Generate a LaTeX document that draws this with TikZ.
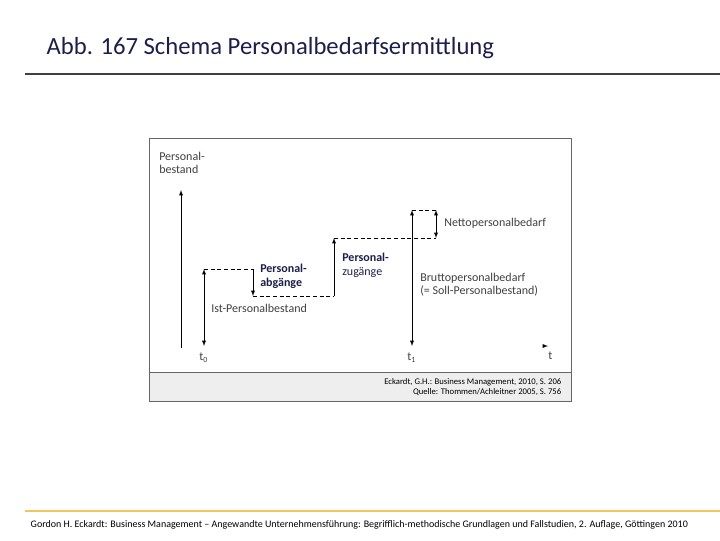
\documentclass[tikz,border=0pt]{standalone}
\usepackage{fontspec}
\setmainfont{Carlito}
\definecolor{navy}{RGB}{28,30,78}
\definecolor{bandgray}{RGB}{238,238,238}
\definecolor{footline}{RGB}{240,200,90}
\tikzset{
    lbl/.style={anchor=north west, align=left, inner sep=0pt, font=\fontsize{9}{10}\selectfont, text=black!75},
    hlbl/.style={lbl, text=navy, font=\bfseries\fontsize{9}{10}\selectfont},
    dline/.style={densely dashed, thin},
    darr/.style={<->, >=latex, thin},
}
\begin{document}
\begin{tikzpicture}[x=0.75pt,y=-0.75pt]
    \useasboundingbox (0,0) rectangle (720,540);
    % title and rules
    \node[anchor=west, text=navy, font=\fontsize{18.5}{20}\selectfont] (title) at (42,48) {Abb. 167 Schema Personalbedarfsermittlung};
    \draw[line width=2.2pt, black!75] (25,74) -- (720,74);
    \draw[line width=2.2pt, footline] (25,511) -- (720,511);
    \node[anchor=west, font=\fontsize{7.5}{8}\selectfont] (foot) at (26,525) {Gordon H. Eckardt: Business Management -- Angewandte Unternehmensführung: Begrifflich-methodische Grundlagen und Fallstudien, 2. Auflage, Göttingen 2010};

    % frame
    \fill[bandgray] (149,372) rectangle (571,401);
    \draw[black!60] (149,138) rectangle (571,401);
    \draw[black!60] (149,372) -- (571,372);
    \node[anchor=east, align=right, font=\fontsize{6.5}{7.5}\selectfont] (src) at (566,387) {Eckardt, G.H.: Business Management, 2010, S. 206\\Quelle: Thommen/Achleitner 2005, S. 756};

    % axes
    \coordinate (y0) at (181,348);
    \coordinate (y1) at (181,190);
    \draw[->, >=latex, thin] (y0) -- (y1);
    \node[lbl] (ylab) at (159,152) {Personal-\\bestand};
    \coordinate (tx) at (548,346);
    \draw[->, >=latex, thin] (545,346) -- (tx);
    \node[lbl] (tlab) at (548,352) {t};

    % steps
    \coordinate (a0) at (204,346);
    \coordinate (a1) at (204,269);
    \coordinate (b1) at (253,269);
    \coordinate (b2) at (253,296);
    \coordinate (c2) at (334,296);
    \coordinate (c3) at (334,238);
    \coordinate (d3) at (436,238);
    \coordinate (d4) at (436,210);
    \coordinate (e4) at (412,210);
    \coordinate (e0) at (412,346);
    \draw[darr] (a0) -- (a1);
    \draw[dline] (a1) -- (b1);
    \draw[->, >=latex, thin] (b1) -- (b2);
    \draw[dline] (b2) -- (c2);
    \draw[->, >=latex, thin] (c2) -- (c3);
    \draw[dline] (c3) -- (d3);
    \draw[darr] (d3) -- (d4);
    \draw[dline] (d4) -- (e4);
    \draw[darr] (e0) -- (e4);

    % labels
    \node[lbl] (t0) at (199,353) {t\textsubscript{0}};
    \node[lbl] (t1) at (407,353) {t\textsubscript{1}};
    \node[lbl] (ist) at (211,304) {Ist-Personalbestand};
    \node[hlbl] (abg) at (260,264) {Personal-\\abgänge};
    \node[hlbl] (zug) at (342,253) {Personal-\\\mdseries zugänge};
    \node[lbl] (netto) at (444,218) {Nettopersonalbedarf};
    \node[lbl] (brutto) at (420,273) {Bruttopersonalbedarf\\(= Soll-Personalbestand)};
\end{tikzpicture}
\end{document}
